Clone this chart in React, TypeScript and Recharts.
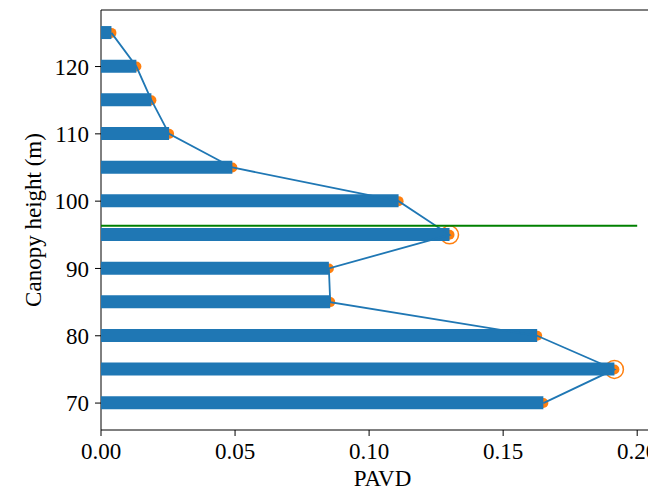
import {
  ComposedChart,
  Bar,
  Line,
  XAxis,
  YAxis,
  ReferenceLine,
} from 'recharts'

const heights = [70, 75, 80, 85, 90, 95, 100, 105, 110, 115, 120, 125]
const pavd = [0.165, 0.1915, 0.1627, 0.0855, 0.085, 0.130, 0.111, 0.049, 0.0254, 0.0188, 0.0132, 0.0039]
const peakHeights = [95, 75]
const xTicks = [0, 0.05, 0.1, 0.15, 0.2]
const yTicks = [70, 80, 90, 100, 110, 120]
const crownLine = 96.33
const crownLineEnd = 0.2

const data = heights.map((h, i) => ({
  h,
  v: pavd[i],
  peak: peakHeights.includes(h) ? pavd[i] : null,
}))

const FONT = '"Liberation Serif", "Times New Roman", serif'
const tickStyle = { fontSize: 23, fill: '#000', fontFamily: FONT }

function PeakDot(props: any) {
  const { cx, cy, payload } = props
  if (payload.peak == null || cx == null) return null
  return <circle cx={cx} cy={cy} r={9} fill="none" stroke="#ff7f0e" strokeWidth={1.5} />
}

function YLabel() {
  return (
    <text
      x={33}
      y={220}
      transform="rotate(-90 33 220)"
      textAnchor="middle"
      dominantBaseline="central"
      fontSize={23}
      fontFamily={FONT}
      fill="#000"
    >
      Canopy height (m)
    </text>
  )
}

export default function App() {
  return (
    <div style={{ position: 'absolute', left: 0, top: 0, width: 648, height: 490, overflow: 'hidden', background: '#fff' }}>
      <ComposedChart
        width={700}
        height={490}
        data={data}
        layout="vertical"
        margin={{ top: 10, right: 36, left: 0, bottom: 0 }}
      >
        <XAxis
          type="number"
          domain={[0, 0.21]}
          ticks={xTicks}
          allowDataOverflow
          tickFormatter={(v: number) => v.toFixed(2)}
          tick={tickStyle}
          tickSize={6}
          tickMargin={7}
          height={60}
          stroke="#000"
          label={{ value: 'PAVD', position: 'insideBottom', offset: 4, fontSize: 23, fill: '#000', fontFamily: FONT }}
        />
        <YAxis
          type="number"
          dataKey="h"
          domain={[66, 128.4]}
          ticks={yTicks}
          reversed
          allowDataOverflow
          tick={tickStyle}
          tickSize={6}
          tickMargin={6}
          width={101}
          stroke="#000"
          label={<YLabel />}
        />
        <ReferenceLine y={128.4} stroke="#000" strokeWidth={1} />
        <Line
          dataKey="v"
          stroke="none"
          dot={{ r: 5, fill: '#ff7f0e', stroke: 'none' }}
          isAnimationActive={false}
          zIndex={250}
        />
        <Bar dataKey="v" fill="#1f77b4" barSize={13} isAnimationActive={false} zIndex={700} />
        <Line
          dataKey="v"
          type="linear"
          stroke="#1f77b4"
          strokeWidth={1.8}
          dot={false}
          isAnimationActive={false}
          zIndex={800}
        />
        <Line
          dataKey="peak"
          stroke="none"
          dot={<PeakDot />}
          isAnimationActive={false}
          zIndex={900}
        />
        <ReferenceLine
          segment={[
            { x: 0, y: crownLine },
            { x: crownLineEnd, y: crownLine },
          ]}
          stroke="#008000"
          strokeWidth={2}
          zIndex={900}
        />
      </ComposedChart>
    </div>
  )
}
